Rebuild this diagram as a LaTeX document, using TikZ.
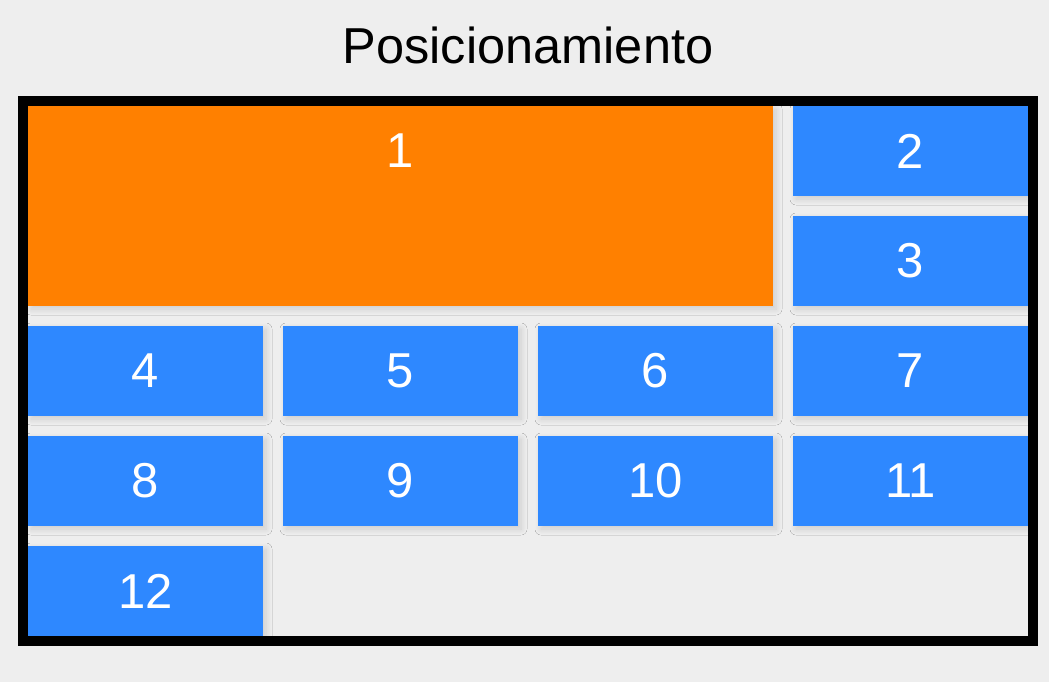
\documentclass[tikz,border=0pt]{standalone}
\usepackage{fontspec}
\setmainfont{Liberation Sans}
\usetikzlibrary{shadows.blur}
\definecolor{bgc}{HTML}{EEEEEE}
\definecolor{bluec}{HTML}{2E88FF}
\definecolor{orangec}{HTML}{FF8000}
\begin{document}
\begin{tikzpicture}[x=1pt,y=-1pt,
  shd/.style={blur shadow={shadow xshift=3pt, shadow yshift=-3pt, shadow blur radius=6pt, shadow blur steps=8, shadow opacity=14}},
  cell/.style={fill=bluec, shd},
  big/.style={fill=orangec, shd},
  lbl/.style={text=white, font=\fontsize{49}{52}\selectfont, inner sep=0pt, anchor=center},
  ttl/.style={text=black, font=\fontsize{50.5}{54}\selectfont, inner sep=0pt, anchor=center}]
\fill[bgc] (0,0) rectangle (1049,682);
\useasboundingbox (0,0) rectangle (1049,682);
\node[ttl] (title) at (528,45) {Posicionamiento};
\draw[line width=10pt] (23,101) rectangle (1033,641);
% box 1
\path[big] (28,106) rectangle (773,306);
\node[lbl] (n1) at (400.5,151) {1};
% other boxes
\foreach \n/\c/\r in {2/3/0,3/3/1,4/0/2,5/1/2,6/2/2,7/3/2,8/0/3,9/1/3,10/2/3,11/3/3,12/0/4}{
  \pgfmathsetmacro{\xa}{28+255*\c}
  \pgfmathsetmacro{\ya}{106+110*\r}
  \path[cell] (\xa,\ya) rectangle ++(235,90);
  \node[lbl] (n\n) at (\xa+117.5,\ya+45) {\n};
}
\end{tikzpicture}
\end{document}
